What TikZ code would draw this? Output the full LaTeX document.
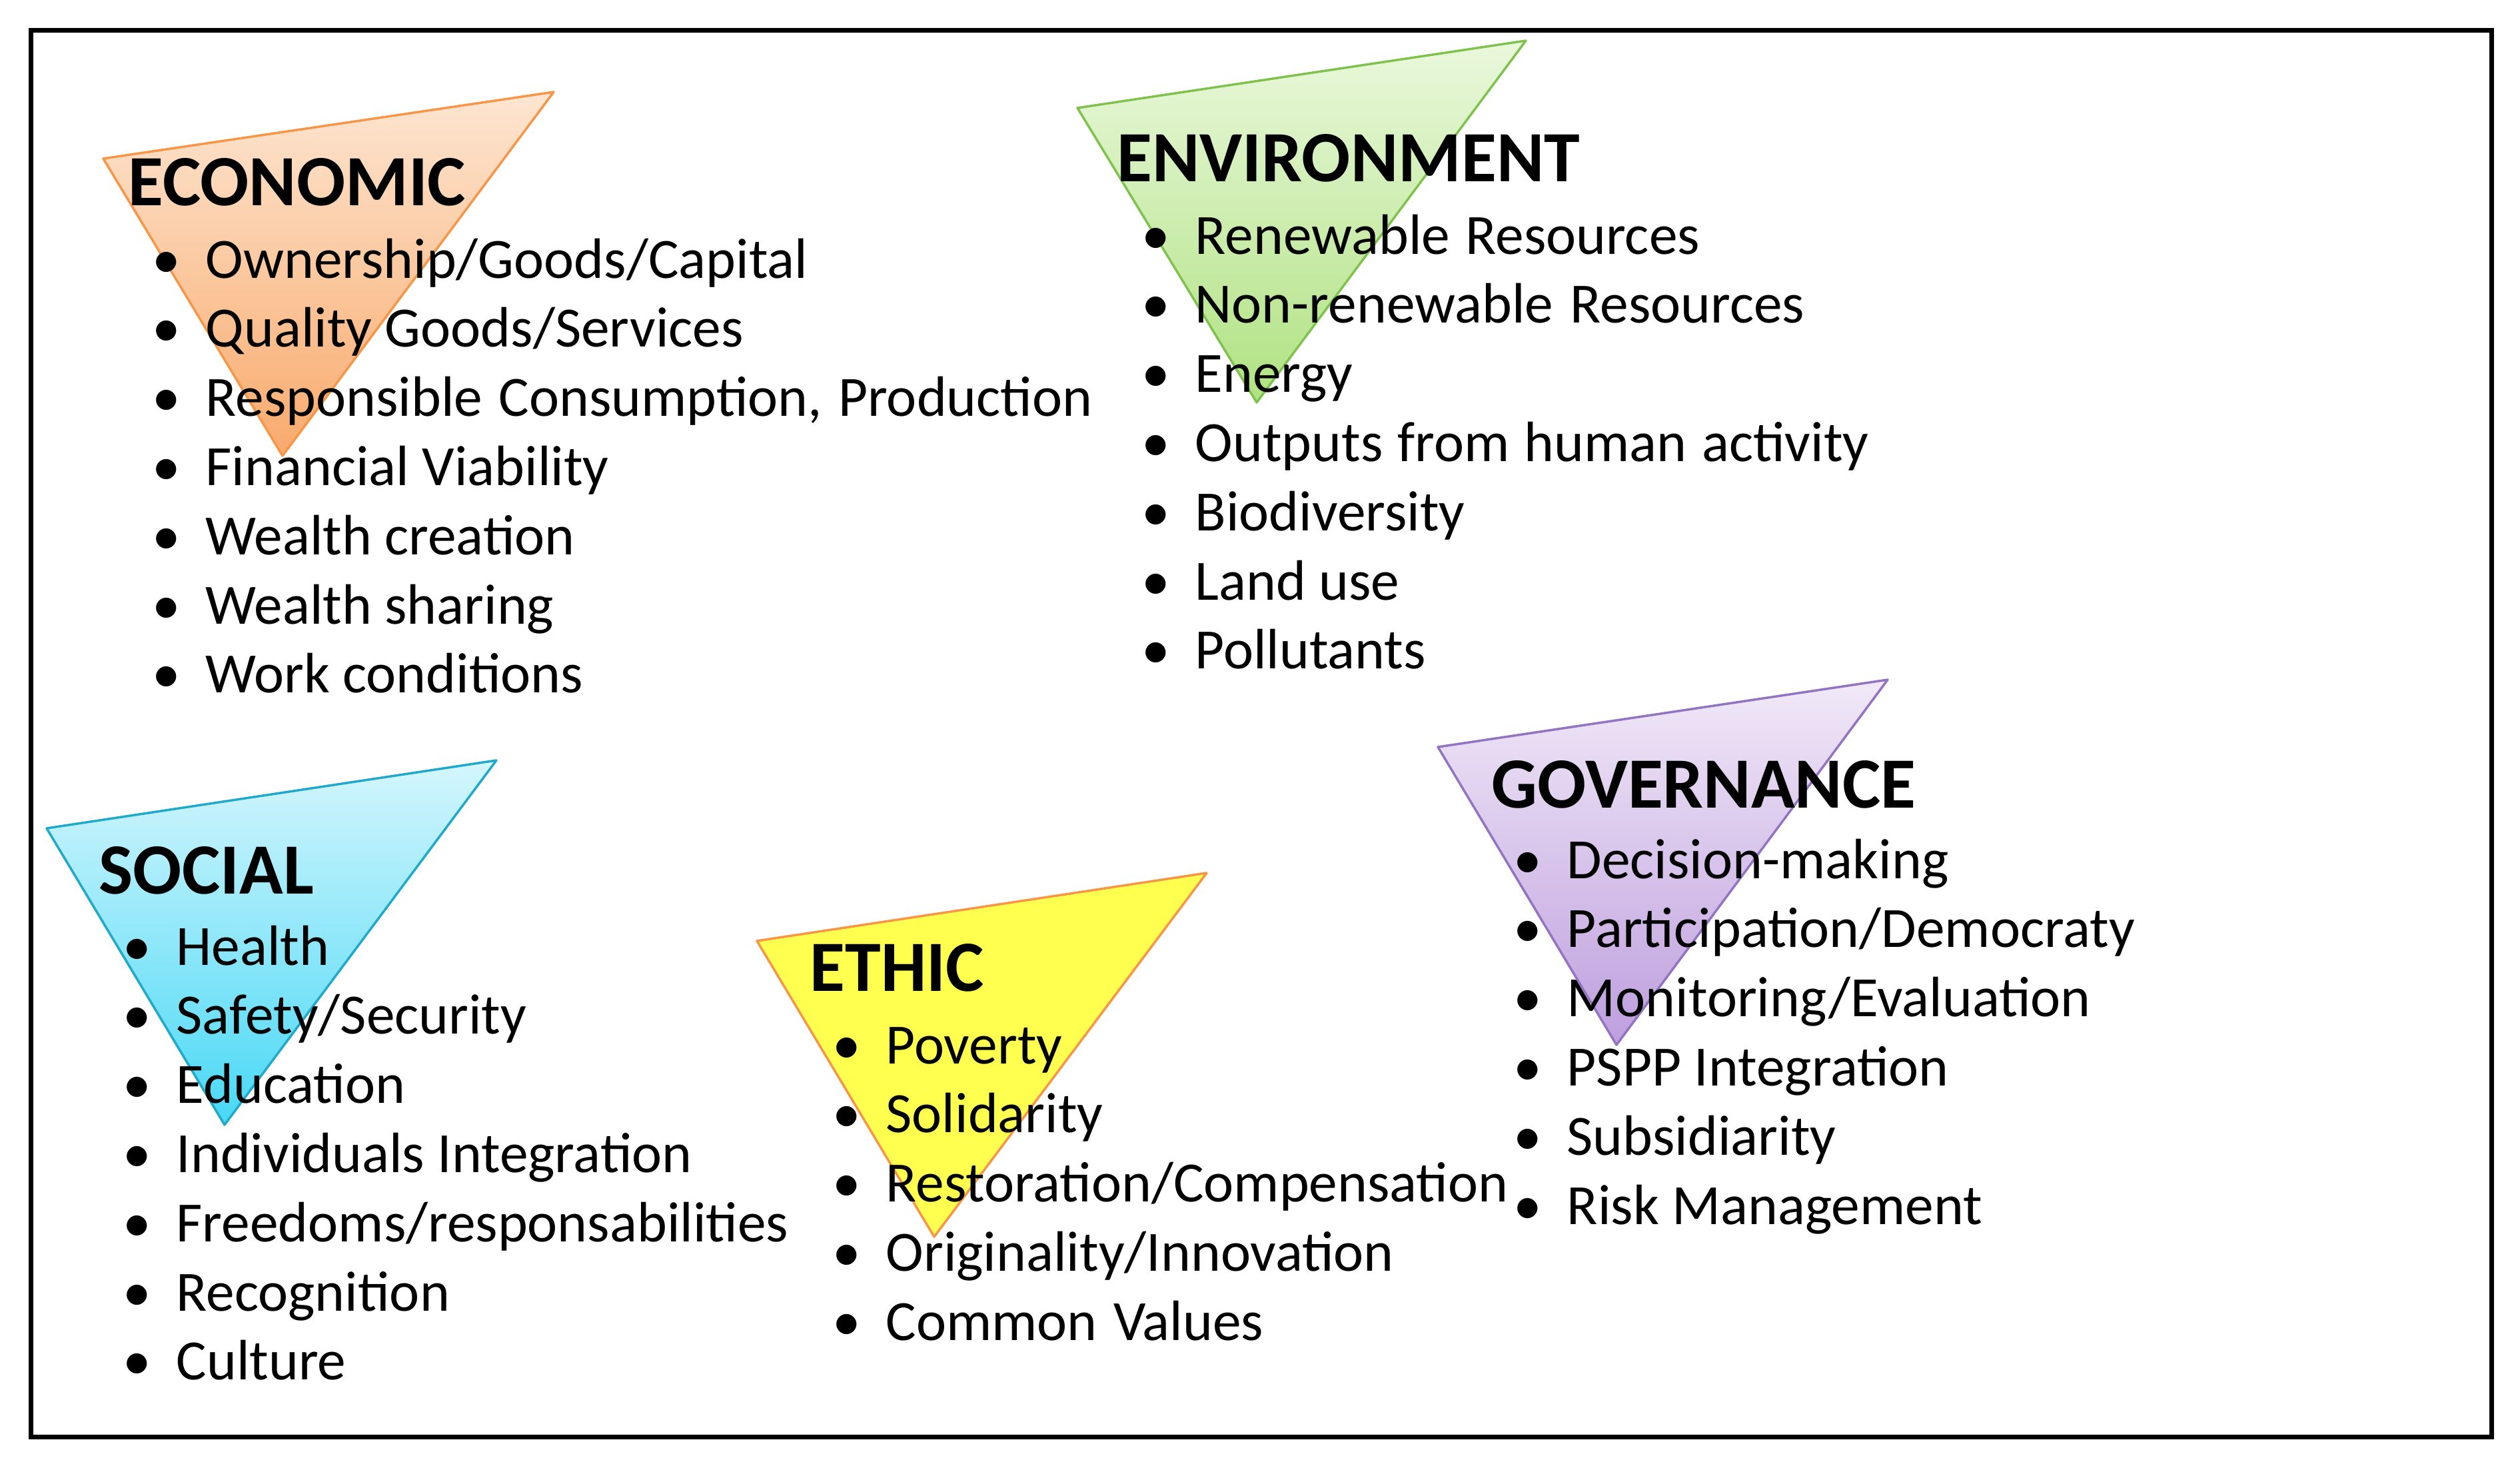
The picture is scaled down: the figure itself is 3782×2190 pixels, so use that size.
\documentclass[tikz,border=0pt]{standalone}
\usepackage{fontspec}
\setmainfont{Carlito}
\usetikzlibrary{calc}
\definecolor{ecoL}{HTML}{FDE6D2}\definecolor{ecoD}{HTML}{F9AA6C}\definecolor{ecoE}{HTML}{F79646}
\definecolor{envL}{HTML}{EAF8DC}\definecolor{envD}{HTML}{B0E282}\definecolor{envE}{HTML}{80C24E}
\definecolor{socL}{HTML}{D5F6FD}\definecolor{socD}{HTML}{48D8F5}\definecolor{socE}{HTML}{21A9CC}
\definecolor{ethF}{HTML}{FFFF50}\definecolor{ethE}{HTML}{F79646}
\definecolor{govL}{HTML}{F1E9F8}\definecolor{govD}{HTML}{BE9FDE}\definecolor{govE}{HTML}{9274C2}
\tikzset{
  head/.style={anchor=base west, inner sep=0pt, font=\fontsize{30.8pt}{36pt}\selectfont\bfseries},
  item/.style={anchor=base west, inner sep=0pt, font=\fontsize{24.3pt}{29pt}\selectfont},
  tri/.style={line width=0.035cm, line join=round},
  shadedtri/.style={tri, shading angle=-45},
  frame/.style={line width=0.07cm, draw=black},
}
\newcommand{\pillar}[7]{%
  \node[head] (#1) at (#2,#3) {#4};
  \foreach \t [count=\i] in {#7} {
    \node[item] (#1-\i) at ({#5-16},{#6+(\i-1)*103.8}) {\makebox[0.80cm][l]{•}\t};
  }
}
\begin{document}
\begin{tikzpicture}[x=0.01cm,y=-0.01cm]
\useasboundingbox (0,0) rectangle (3782,2190);
\draw[frame] (46.5,45) rectangle (3739,2156);
% triangles
\draw[shadedtri, draw=ecoE, top color=ecoL, bottom color=ecoD] (155,238) -- (831,138) -- (424,684) -- cycle;
\draw[shadedtri, draw=envE, top color=envL, bottom color=envD] (1617,162) -- (2290,61) -- (1886,604) -- cycle;
\draw[shadedtri, draw=socE, top color=socL, bottom color=socD] (70,1243) -- (745,1141) -- (337,1688) -- cycle;
\draw[tri, draw=ethE, fill=ethF] (1136,1412) -- (1811,1310) -- (1402,1856) -- cycle;
\draw[shadedtri, draw=govE, top color=govL, bottom color=govD] (2158,1121) -- (2833,1020) -- (2426,1568) -- cycle;
% texts
\pillar{eco}{192}{308}{ECONOMIC}{244}{417}{Ownership/Goods/Capital, Quality Goods/Services, {Responsible\hspace{0.05cm} Consumption,\hspace{0.05cm} Production}, Financial Viability, Wealth creation, Wealth sharing, Work conditions}
\pillar{env}{1676}{272}{ENVIRONMENT}{1729}{381}{Renewable\hspace{0.04cm} Resources, Non-renewable\hspace{0.06cm} Resources, Energy, Outputs\hspace{0.03cm} from\hspace{0.03cm} human\hspace{0.03cm} activity, Biodiversity, Land use, Pollutants}
\pillar{soc}{148}{1341}{SOCIAL}{200}{1448}{Health, Safety/Security, Education, Individuals Integration, Freedoms/responsabilities, Recognition, Culture}
\pillar{eth}{1215}{1487}{ETHIC}{1265}{1596}{Poverty, Solidarity, Restoration/Compensation, Originality/Innovation, Common\hspace{0.05cm} Values}
\pillar{gov}{2238}{1212}{GOVERNANCE}{2287}{1318}{Decision-making, Participation/Democraty, Monitoring/Evaluation, PSPP Integration, Subsidiarity, Risk Management}
\end{tikzpicture}
\end{document}
